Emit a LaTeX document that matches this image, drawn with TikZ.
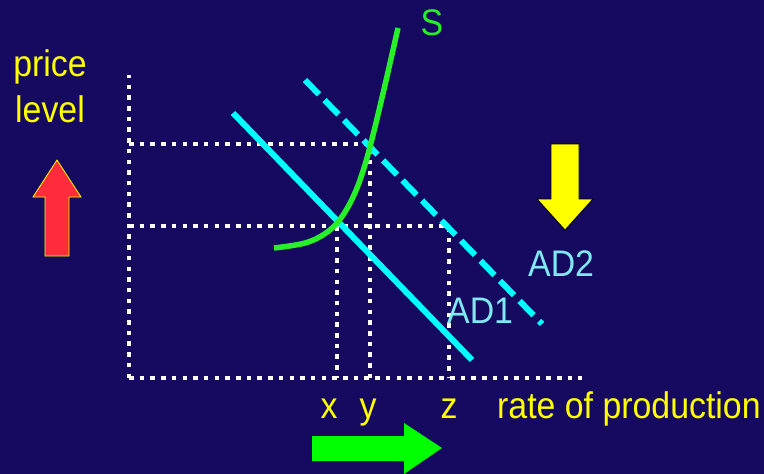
\documentclass[tikz,border=0pt]{standalone}
\usepackage{fontspec}
\setmainfont{Liberation Sans}[FakeStretch=0.915]
\definecolor{bgcol}{RGB}{21,10,96}
\definecolor{adcyan}{RGB}{0,255,255}
\definecolor{lblcyan}{RGB}{128,232,240}
\definecolor{sgreen}{RGB}{40,240,40}
\definecolor{ylw}{RGB}{255,255,0}
\definecolor{redarr}{RGB}{255,45,60}
\definecolor{garr}{RGB}{0,255,0}
\begin{document}
\begin{tikzpicture}[x=1pt,y=-1pt,
  dots/.style={white,line width=4.5pt,dash pattern=on 4.5pt off 6.2pt},
  adline/.style={adcyan,line width=6pt},
  lbl/.style={inner sep=0pt,font=\fontsize{37}{44}\selectfont},
]
\fill[bgcol] (0,0) rectangle (764,474);
\useasboundingbox (0,0) rectangle (764,474);
% axis coordinates
\coordinate (O) at (129,378);
\coordinate (Ytop) at (129,75);
\coordinate (Xend) at (582,378);
\coordinate (P2) at (129,144);
\coordinate (P1) at (129,226);
\coordinate (Yq) at (370,144);
\coordinate (Zq) at (449,226);
\coordinate (Xb) at (337,378);
\coordinate (Xt) at (337,226);
\coordinate (Yb) at (370,378);
\coordinate (Zb) at (449,378);
\draw[dots] (O) -- (Ytop);
\draw[dots] (O) -- (Xend);
\draw[dots] (P2) -- (Yq) -- (Yb);
\draw[dots] (P1) -- (Zq) -- (Zb);
\draw[dots] (Xt) -- (Xb);
% AD curves
\coordinate (ad1a) at (233,113);
\coordinate (ad1b) at (472,360);
\coordinate (ad2a) at (305,80);
\coordinate (ad2b) at (542,324);
\draw[adline] (ad1a) -- (ad1b);
\draw[adline,dash pattern=on 20pt off 8pt] (ad2a) -- (ad2b);
% S curve
\draw[sgreen,line width=5.5pt] plot[smooth,tension=0.6] coordinates
  {(274,248) (305,243) (326,233) (341,218) (354,195) (364,168) (373,135) (385,85) (398,28)};
% labels
\node[lbl,anchor=base,text=ylw] (price) at (50,76) {price};
\node[lbl,anchor=base,text=ylw] (level) at (50,122) {level};
\node[lbl,anchor=base,text=sgreen] (S) at (432,35) {S};
\node[lbl,anchor=base west,text=lblcyan] (AD2) at (528,276) {AD2};
\node[lbl,anchor=base west,text=lblcyan] (AD1) at (447,323) {AD1};
\node[lbl,anchor=base,text=ylw] (xl) at (329,418) {x};
\node[lbl,anchor=base,text=ylw] (yl) at (368,418) {y};
\node[lbl,anchor=base,text=ylw] (zl) at (449,418) {z};
\node[lbl,anchor=base west,text=ylw] (rate) at (497,418) {rate of production};
% red up arrow
\filldraw[fill=redarr,draw=ylw,line width=0.8pt]
  (57,160) -- (81,197) -- (69,197) -- (69,256) -- (45,256) -- (45,197) -- (33,197) -- cycle;
% yellow down arrow
\filldraw[fill=ylw,draw=black,line width=0.8pt]
  (565,230) -- (593,199) -- (579,199) -- (579,144) -- (551,144) -- (551,199) -- (537,199) -- cycle;
% green right arrow
\fill[garr]
  (442,448) -- (404,423) -- (404,436) -- (312,436) -- (312,461) -- (404,461) -- (404,474) -- cycle;
\end{tikzpicture}
\end{document}
